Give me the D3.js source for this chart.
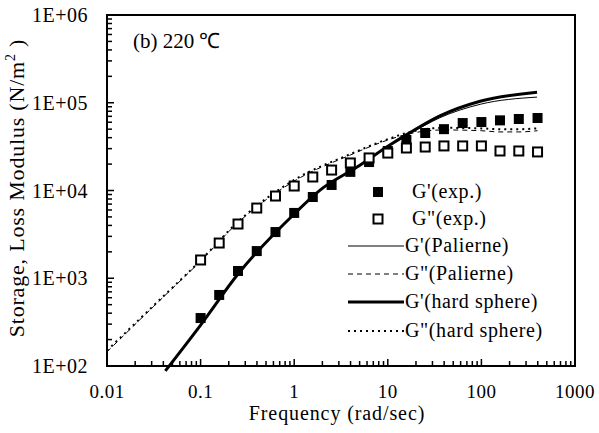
<!DOCTYPE html>
<html>
<head>
<meta charset="utf-8">
<script src="https://cdn.jsdelivr.net/npm/d3@7"></script>
<style>
  body { margin: 0; background: #fff; }
  text { font-family: "Liberation Serif", "Times New Roman", serif; fill: #000; }
</style>
</head>
<body>
<script>
// experimental frequencies (rad/s)
var freqExp = [0.1, 0.158, 0.251, 0.398, 0.631, 1, 1.58, 2.51, 3.98, 6.31,
  10, 15.8, 25.1, 39.8, 63.1, 100, 158, 251, 398];
// G' exp (filled squares)
var gpExp = [352, 645, 1210, 2040, 3360, 5550, 8430, 11560, 16300, 21100,
  28200, 37600, 45200, 50000, 58700, 60300, 63000, 65300, 67000];
// G" exp (open squares)
var gppExp = [1615, 2520, 4150, 6310, 8650, 11250, 14250, 17100, 20600, 23500,
  26700, 30500, 31300, 32200, 32200, 32200, 28200, 28200, 27500];

// model curves
var freqG1 = [0.042, 0.1, 0.251, 1, 1.89, 4.69, 10.5, 17.3, 36, 97, 393];
var gpHS = [88, 293, 1117, 5400, 10100, 18500, 33000, 45700, 70800, 104000, 132000];
var gpPal = [88, 293, 1117, 5400, 10100, 18500, 32600, 44500, 67500, 96000, 116000];
var freqG2 = [0.01, 0.0316, 0.1, 0.251, 1, 3.98, 10, 17.3, 39.8, 100, 158, 251, 398];
var gppPal = [145, 480, 1570, 4300, 12800, 25400, 37600, 44500, 49000, 48000, 46500, 46500, 48000];
var gppHS = [150, 490, 1600, 4400, 13200, 26000, 38500, 46400, 51800, 51000, 50000, 50000, 51000];

var legendLabels = ["G'(exp.)", "G\"(exp.)", "G'(Palierne)", "G\"(Palierne)", "G'(hard sphere)", "G\"(hard sphere)"];
var yTickLabels = ["1E+02", "1E+03", "1E+04", "1E+05", "1E+06"];
var xTickLabels = ["0.01", "0.1", "1", "10", "100", "1000"];

var W = 599, H = 433;
var pL = 107, pR = 575, pT = 15, pB = 366;

var svg = d3.select("body").append("svg")
  .attr("width", W)
  .attr("height", H);

var x = d3.scaleLog().domain([0.01, 1000]).range([pL, pR]);
var y = d3.scaleLog().domain([100, 1e6]).range([pB, pT]);

// minor + major ticks, drawn inward
var xt = [], yt = [];
for (var d = -2; d <= 2; d++) {
  for (var k = 1; k <= 9; k++) xt.push({ v: k * Math.pow(10, d), major: k == 1 });
}
for (var d = 2; d <= 5; d++) {
  for (var k = 1; k <= 9; k++) yt.push({ v: k * Math.pow(10, d), major: k == 1 });
}

svg.selectAll(".xtick")
  .data(xt)
  .enter()
  .append("line")
  .attr("x1", function (t) { return x(t.v); })
  .attr("x2", function (t) { return x(t.v); })
  .attr("y1", pB)
  .attr("y2", function (t) { return pB - (t.major ? 7 : 5); })
  .attr("stroke", "#000")
  .attr("stroke-width", 1.5);

svg.selectAll(".ytick")
  .data(yt)
  .enter()
  .append("line")
  .attr("y1", function (t) { return y(t.v); })
  .attr("y2", function (t) { return y(t.v); })
  .attr("x1", pL)
  .attr("x2", function (t) { return pL + (t.major ? 7 : 5); })
  .attr("stroke", "#000")
  .attr("stroke-width", 1.5);

// frame
svg.append("rect")
  .attr("x", pL)
  .attr("y", pT)
  .attr("width", pR - pL)
  .attr("height", pB - pT)
  .attr("fill", "none")
  .attr("stroke", "#000")
  .attr("stroke-width", 2);

// tick labels
svg.selectAll(".ylab")
  .data(yTickLabels)
  .enter()
  .append("text")
  .attr("x", 88)
  .attr("y", function (s, i) { return y(Math.pow(10, i + 2)) + 7; })
  .attr("text-anchor", "end")
  .attr("font-size", "20px")
  .attr("letter-spacing", "0.5px")
  .text(function (s) { return s; });

svg.selectAll(".xlab")
  .data(xTickLabels)
  .enter()
  .append("text")
  .attr("x", function (s, i) { return x(Math.pow(10, i - 2)); })
  .attr("y", 398)
  .attr("text-anchor", "middle")
  .attr("font-size", "19px")
  .attr("letter-spacing", "0.5px")
  .text(function (s) { return s; });

// axis titles
svg.append("text")
  .attr("x", 337)
  .attr("y", 420)
  .attr("text-anchor", "middle")
  .attr("font-size", "20px")
  .attr("letter-spacing", "0.9px")
  .text("Frequency (rad/sec)");

var yt2 = svg.append("text")
  .attr("transform", "translate(24,188) rotate(-90)")
  .attr("text-anchor", "middle")
  .attr("font-size", "22px")
  .attr("letter-spacing", "0.8px");
yt2.append("tspan").text("Storage, Loss Modulus  (N/m");
yt2.append("tspan").attr("dy", -9).attr("font-size", "14px").text("2");
yt2.append("tspan").attr("dy", 9).text("  )");

svg.append("text")
  .attr("x", 133)
  .attr("y", 48)
  .attr("font-size", "21px")
  .text("(b) 220 \u2103");

// curves
var line = d3.line()
  .x(function (p) { return x(p[0]); })
  .y(function (p) { return y(p[1]); })
  .curve(d3.curveMonotoneX);

function pairs(fs, vs) {
  return fs.map(function (f, i) { return [f, vs[i]]; });
}

var styles = [
  { w: 1, dash: null },
  { w: 1, dash: "5,4" },
  { w: 3, dash: null },
  { w: 2, dash: "2,4" }
];
var curves = [pairs(freqG1, gpPal), pairs(freqG2, gppPal), pairs(freqG1, gpHS), pairs(freqG2, gppHS)];

curves.forEach(function (c, i) {
  svg.append("path")
    .datum(c)
    .attr("d", line)
    .attr("fill", "none")
    .attr("stroke", "#000")
    .attr("stroke-width", styles[i].w)
    .attr("stroke-dasharray", styles[i].dash);
});

// markers
svg.selectAll(".gp")
  .data(pairs(freqExp, gpExp))
  .enter()
  .append("rect")
  .attr("x", function (p) { return x(p[0]) - 5; })
  .attr("y", function (p) { return y(p[1]) - 5; })
  .attr("width", 10)
  .attr("height", 10)
  .attr("fill", "#000");

svg.selectAll(".gpp")
  .data(pairs(freqExp, gppExp))
  .enter()
  .append("rect")
  .attr("x", function (p) { return x(p[0]) - 4.5; })
  .attr("y", function (p) { return y(p[1]) - 4.5; })
  .attr("width", 9)
  .attr("height", 9)
  .attr("fill", "#fff")
  .attr("stroke", "#000")
  .attr("stroke-width", 2);

// legend
var ly = [192, 219, 246, 274, 302, 331];
var lg = svg.append("g");
lg.selectAll("text")
  .data(legendLabels)
  .enter()
  .append("text")
  .attr("x", function (s, i) { return i < 2 ? 412 : 405; })
  .attr("y", function (s, i) { return ly[i] + 6; })
  .attr("font-size", "20px")
  .attr("letter-spacing", "0.6px")
  .text(function (s) { return s; });

lg.append("rect").attr("x", 373).attr("y", ly[0] - 5).attr("width", 10).attr("height", 10).attr("fill", "#000");
lg.append("rect").attr("x", 373.5).attr("y", ly[1] - 4.5).attr("width", 9).attr("height", 9)
  .attr("fill", "#fff").attr("stroke", "#000").attr("stroke-width", 2);
styles.forEach(function (s, i) {
  lg.append("line")
    .attr("x1", 348)
    .attr("x2", 404)
    .attr("y1", ly[i + 2])
    .attr("y2", ly[i + 2])
    .attr("stroke", "#000")
    .attr("stroke-width", s.w)
    .attr("stroke-dasharray", s.dash);
});
</script>
</body>
</html>
